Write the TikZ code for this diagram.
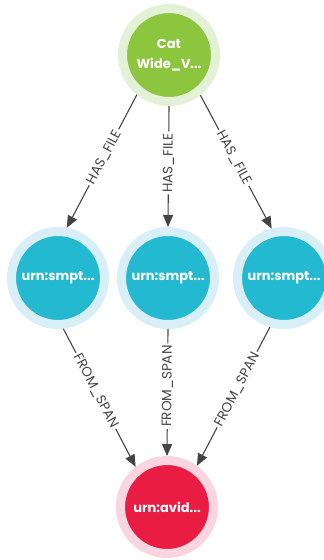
\documentclass[tikz,border=0pt]{standalone}
\usepackage{fontspec}
\setmainfont{Poppins}
\usetikzlibrary{arrows.meta}
\definecolor{grnin}{HTML}{8CC63F}
\definecolor{grnout}{HTML}{E3F1D6}
\definecolor{tealin}{HTML}{23B9D1}
\definecolor{tealout}{HTML}{D9EFF7}
\definecolor{redin}{HTML}{E91C43}
\definecolor{redout}{HTML}{F9D5DF}
\definecolor{edgec}{HTML}{444444}
\tikzset{
  gnode/.style={circle, minimum size=93pt, inner sep=0pt, line width=9pt,
    font=\bfseries\fontsize{13}{20}\selectfont, text=white, align=center},
  relline/.style={draw=edgec, line width=1.1pt, -{Triangle[length=12pt,width=10pt]}},
  rellabel/.style={sloped, fill=white, inner sep=2pt, text=edgec,
    font=\fontsize{13.5}{14}\selectfont}
}
\begin{document}
\begin{tikzpicture}[x=1pt,y=-1pt]
\useasboundingbox (0,0) rectangle (324,560);
\node[gnode, fill=grnin, draw=grnout] (cat) at (169,55) {Cat\\Wide\_V...};
\node[gnode, fill=tealin, draw=tealout] (s1) at (58,278) {urn:smpt...};
\node[gnode, fill=tealin, draw=tealout] (s2) at (168,278) {urn:smpt...};
\node[gnode, fill=tealin, draw=tealout] (s3) at (284,278) {urn:smpt...};
\node[gnode, fill=redin, draw=redout] (av) at (167,507) {urn:avid...};

\draw[relline] (cat.231) -- node[rellabel, pos=0.47] {HAS\_FILE} (s1.80);
\draw[relline] (cat.-90) -- node[rellabel, pos=0.47] {HAS\_FILE} (s2.90);
\draw[relline] (cat.-52) -- node[rellabel, pos=0.47] {HAS\_FILE} (s3.104);

\draw[relline] (s1.-84) -- node[rellabel, pos=0.45] {FROM\_SPAN} (av.128);
\draw[relline] (s2.-90) -- node[rellabel, pos=0.45] {FROM\_SPAN} (av.90);
\draw[relline] (s3.-106) -- node[rellabel, pos=0.45] {FROM\_SPAN} (av.54);
\end{tikzpicture}
\end{document}
